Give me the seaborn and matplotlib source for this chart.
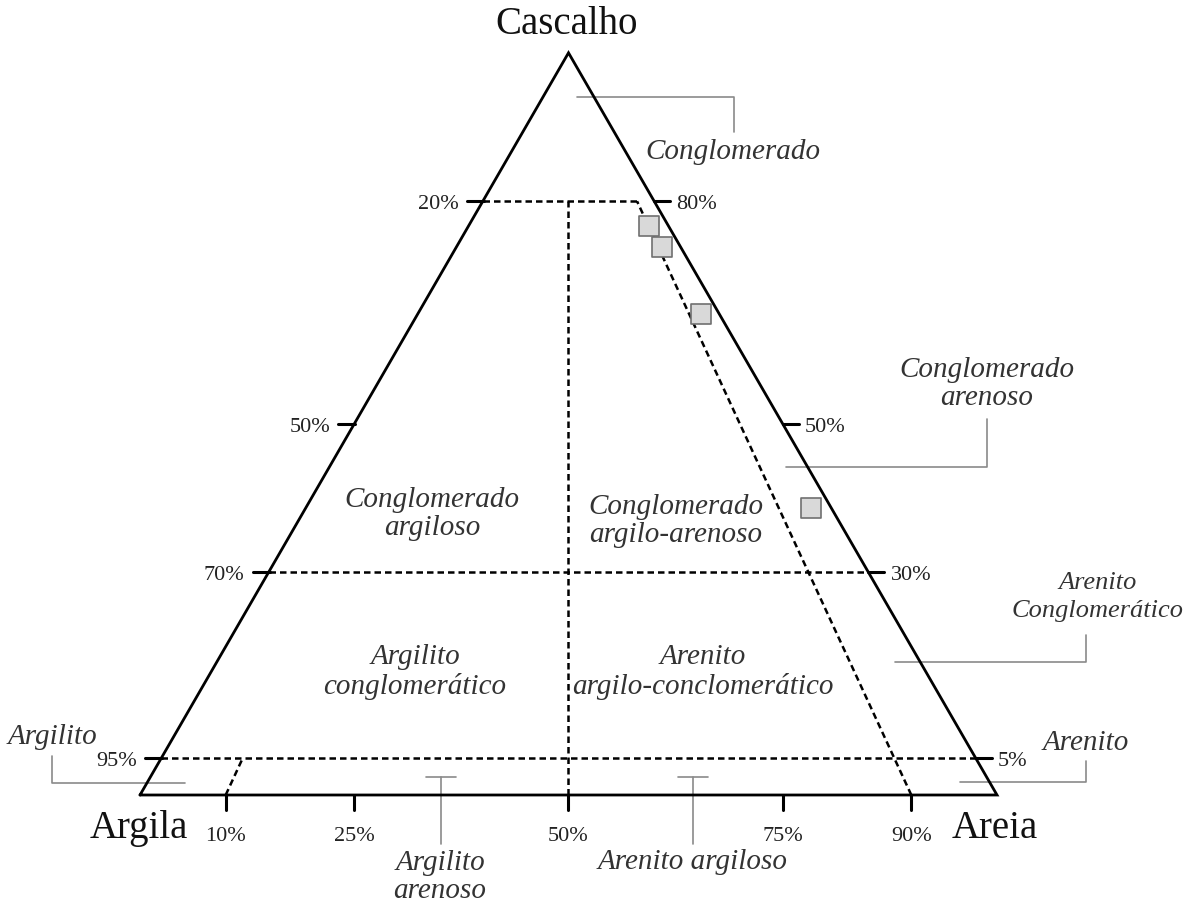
import numpy as np
import matplotlib.pyplot as plt
import seaborn as sns
import pandas as pd

# Amostras (percentuais de cascalho / areia / lama)
sample_gravel = [76.6, 73.8, 64.8, 38.7]
sample_sand = [21.1, 24.0, 33.1, 59.0]
sample_mud = [2.3, 2.2, 2.1, 2.3]

# limites de classe (cascalho %) e razões areia/(areia+lama)
gravel_levels = [80, 50, 30, 5]
left_labels = ['20%', '50%', '70%', '95%']
right_labels = ['80%', '50%', '30%', '5%']
base_ratios = [10, 25, 50, 75, 90]
base_labels = ['10%', '25%', '50%', '75%', '90%']

H = np.sqrt(3) / 2
SIDE = 857.0
X0, Y0 = 140.0, 796.0


def tern(g, r):
    """gravel fraction g, sand ratio r -> cartesian"""
    s = (1 - g) * r
    return s + g / 2, g * H


def px(x, y):
    """pixel position -> data coords (layout only)"""
    return (x - X0) / SIDE, (Y0 - y) / SIDE


sns.set_theme(style='white')
plt.rcParams['font.family'] = ['Liberation Serif', 'DejaVu Serif']

fig = plt.figure(figsize=(11.83, 9.04), dpi=100)
ax = fig.add_axes([0, 0, 1, 1])
ax.set_xlim(-X0 / SIDE, (1183 - X0) / SIDE)
ax.set_ylim((Y0 - 904) / SIDE, Y0 / SIDE)
ax.axis('off')

# triangulo
tri = np.array([tern(0, 0), tern(0, 1), tern(1, 0), tern(0, 0)])
ax.plot(tri[:, 0], tri[:, 1], color='black', lw=2, solid_joinstyle='miter', zorder=3)

dash = dict(color='black', lw=1.8, dashes=(2.6, 1.6), zorder=2)


def dline(p, q):
    ax.plot([p[0], q[0]], [p[1], q[1]], **dash)


# linhas de classe
g80, g30, g05 = gravel_levels[0] / 100, gravel_levels[2] / 100, gravel_levels[3] / 100
dline(tern(g80, 0), tern(g80, 0.9))
dline(tern(g30, 0), tern(g30, 1))
dline(tern(g05, 0), tern(g05, 1))
dline(tern(0, 0.5), tern(g80, 0.5))
dline(tern(0, 0.9), tern(g80, 0.9))
dline(tern(0, 0.1), tern(g05, 0.1))

# ticks laterais
tick = 16 / SIDE
gap = 24 / SIDE
for g, ll, rl in zip(gravel_levels, left_labels, right_labels):
    g = g / 100
    xl, y = tern(g, 0)
    xr, _ = tern(g, 1)
    ax.plot([xl - tick, xl + 1 / SIDE], [y, y], color='black', lw=2.2, zorder=3)
    ax.plot([xr, xr + tick], [y, y], color='black', lw=2.2, zorder=3)
    ax.text(xl - gap, y, ll, ha='right', va='center_baseline', fontsize=16, color='#222222')
    ax.text(xr + gap - 2 / SIDE, y, rl, ha='left', va='center_baseline', fontsize=16,
            color='#222222')

# ticks da base
for r, lab in zip(base_ratios, base_labels):
    x, _ = tern(0, r / 100)
    ax.plot([x, x], [0, -15 / SIDE], color='black', lw=2.2, zorder=3)
    ax.text(x, -38 / SIDE, lab, ha='center', va='center_baseline', fontsize=16,
            color='#222222')

# amostras
df = pd.DataFrame({'gravel': sample_gravel, 'sand': sample_sand, 'mud': sample_mud})
tot = df['gravel'] + df['sand'] + df['mud']
df['x'] = df['sand'] / tot + df['gravel'] / tot / 2
df['y'] = df['gravel'] / tot * H
sns.scatterplot(data=df, x='x', y='y', marker='s', s=190, color='#d9d9d9',
                edgecolor='#707070', linewidth=1.2, ax=ax, zorder=4, legend=False)
ax.set_xlabel('')
ax.set_ylabel('')
ax.axis('off')

# vertices
ax.text(*px(567, 24), 'Cascalho', ha='center', va='center', fontsize=28, color='#111111')
ax.text(*px(139, 829), 'Argila', ha='center', va='center', fontsize=28, color='#111111')
ax.text(*px(995, 829), 'Areia', ha='center', va='center', fontsize=28, color='#111111')

# nomes das classes
it = dict(ha='center', va='center', fontsize=21, style='italic', color='#333333',
          linespacing=1.1)
names = [
    ((733, 152), 'Conglomerado', 21, 1.1),
    ((987, 384), 'Conglomerado\narenoso', 21, 1.1),
    ((432, 514), 'Conglomerado\nargiloso', 21, 1.1),
    ((676, 521), 'Conglomerado\nargilo-arenoso', 21, 1.1),
    ((415, 672), 'Argilito\nconglomerático', 21, 1.1),
    ((703, 672), 'Arenito\nargilo-conclomerático', 21, 1.1),
    ((1098, 597), 'Arenito\nConglomerático', 19, 1.35),
    ((1086, 743), 'Arenito', 21, 1.1),
    ((52, 737), 'Argilito', 21, 1.1),
    ((440, 877), 'Argilito\narenoso', 21, 1.1),
    ((693, 862), 'Arenito argiloso', 21, 1.1),
]
for (x, y), t, fs, ls in names:
    opts = dict(it, fontsize=fs, linespacing=ls)
    ax.text(*px(x, y), t, **opts)

# linhas de chamada
lead = dict(color='#8a8a8a', lw=1.2, zorder=1)
leaders = [
    [(577, 98), (734, 98), (734, 133)],
    [(786, 468), (987, 468), (987, 420)],
    [(895, 663), (1086, 663), (1086, 636)],
    [(960, 783), (1086, 783), (1086, 762)],
    [(52, 757), (52, 784), (185, 784)],
    [(426, 778), (456, 778)],
    [(441, 778), (441, 845)],
    [(678, 778), (708, 778)],
    [(693, 778), (693, 845)],
]
for pts in leaders:
    xy = np.array([px(*p) for p in pts])
    ax.plot(xy[:, 0], xy[:, 1], **lead)

fig.savefig('out.png', dpi=100)
